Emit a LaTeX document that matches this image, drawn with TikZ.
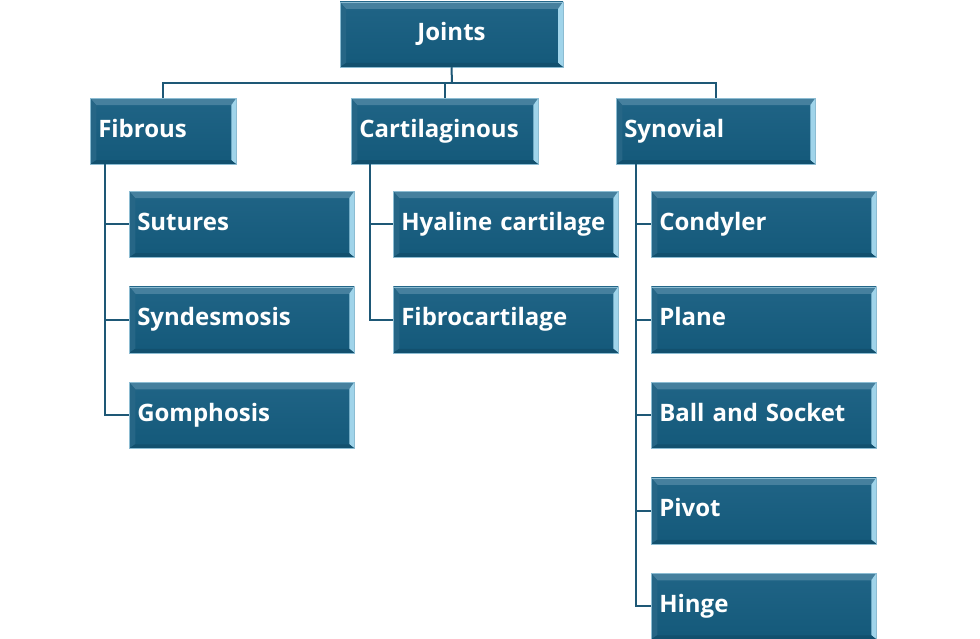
\documentclass[tikz,border=0pt]{standalone}
\usepackage{fontspec}
\setmainfont{Open Sans}
\usetikzlibrary{positioning}

\definecolor{jface}{RGB}{20,89,122}
\definecolor{jfacetop}{RGB}{32,100,134}
\definecolor{jbevtop}{RGB}{70,128,158}
\definecolor{jbevleft}{RGB}{38,102,134}
\definecolor{jbevright}{RGB}{160,212,234}
\definecolor{jbevbottom}{RGB}{18,80,110}
\definecolor{jedge}{RGB}{140,188,210}
\definecolor{jline}{RGB}{30,88,118}

\begin{document}
\begin{tikzpicture}[
    x=1pt, y=-1pt,
    jbox/.style={draw=jedge, line width=0.5pt, top color=jfacetop, bottom color=jface,
        minimum height=66pt, inner xsep=8pt, text=white,
        font=\fontsize{24}{28}\selectfont\bfseries,
        text height=17pt, text depth=5pt,
        path picture={
            \fill[jbevtop] (path picture bounding box.north west) -- (path picture bounding box.north east)
                -- ([shift={(-5pt,-7pt)}]path picture bounding box.north east)
                -- ([shift={(6pt,-7pt)}]path picture bounding box.north west) -- cycle;
            \fill[jbevleft] (path picture bounding box.north west) -- ([shift={(6pt,-7pt)}]path picture bounding box.north west)
                -- ([shift={(6pt,4pt)}]path picture bounding box.south west)
                -- (path picture bounding box.south west) -- cycle;
            \fill[jbevright] (path picture bounding box.north east) -- ([shift={(-5pt,-7pt)}]path picture bounding box.north east)
                -- ([shift={(-5pt,4pt)}]path picture bounding box.south east)
                -- (path picture bounding box.south east) -- cycle;
            \fill[jbevbottom] (path picture bounding box.south west) -- ([shift={(6pt,4pt)}]path picture bounding box.south west)
                -- ([shift={(-5pt,4pt)}]path picture bounding box.south east)
                -- (path picture bounding box.south east) -- cycle;
        }},
    leaf/.style={jbox, text width=209pt, align=left},
    link/.style={draw=jline, line width=2pt}
]
\useasboundingbox (0,0) rectangle (980,639);

% root
\node[jbox, minimum width=223pt, minimum height=65pt] (joints) at (451.5,34.5) {Joints};

% joint classes
\node[jbox, text width=130pt, align=left, anchor=north west] (fibrous) at (90,98) {Fibrous};
\node[jbox, text width=171pt, align=left, anchor=north west] (cartil) at (351,98) {Cartilaginous};
\node[jbox, text width=183pt, align=left, anchor=north west] (synovial) at (616,98) {Synovial};

% fibrous joints
\node[leaf, anchor=north west] (sutures) at (129,191) {Sutures};
\node[leaf, below=29pt of sutures] (syndesmosis) {Syndesmosis};
\node[leaf, below=29pt of syndesmosis] (gomphosis) {Gomphosis};

% cartilaginous joints
\node[leaf, anchor=north west] (hyaline) at (393,191) {Hyaline cartilage};
\node[leaf, below=29pt of hyaline] (fibrocart) {Fibrocartilage};

% synovial joints
\node[leaf, anchor=north west] (condyler) at (651,191) {Condyler};
\node[leaf, below=29pt of condyler] (plane) {Plane};
\node[leaf, below=29pt of plane] (ballsocket) {Ball and Socket};
\node[leaf, below=29pt of ballsocket] (pivot) {Pivot};
\node[leaf, below=29pt of pivot] (hinge) {Hinge};

% connectors
\coordinate (bus) at (452,83);
\draw[link] (joints.south) -- (bus);
\draw[link] (fibrous.north) |- (bus) -| (synovial.north);
\draw[link] (cartil.north) -- (cartil.north |- bus);

\foreach \c in {sutures,syndesmosis,gomphosis}
    \draw[link] ([xshift=15pt]fibrous.south west) |- (\c.west);
\foreach \c in {hyaline,fibrocart}
    \draw[link] ([xshift=19pt]cartil.south west) |- (\c.west);
\foreach \c in {condyler,plane,ballsocket,pivot,hinge}
    \draw[link] ([xshift=20pt]synovial.south west) |- (\c.west);

\end{tikzpicture}
\end{document}
